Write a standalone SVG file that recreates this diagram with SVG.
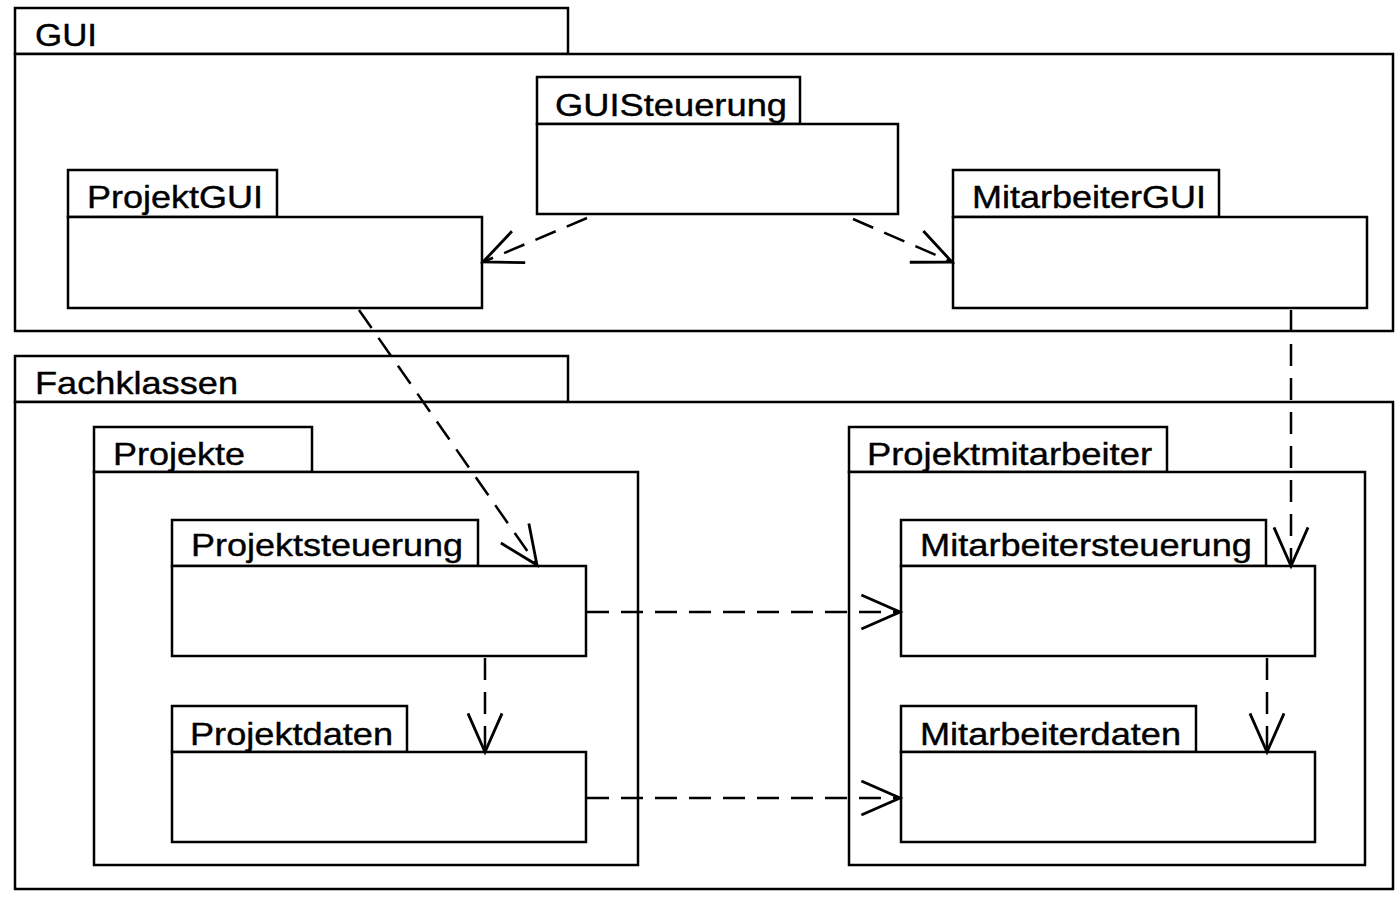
<svg xmlns="http://www.w3.org/2000/svg" width="1400" height="898" viewBox="0 0 1400 898">
<defs>
<style>
.box{fill:#fff;stroke:#000;stroke-width:2.5}
.lbl{font-family:"Liberation Sans",Arial,sans-serif;font-size:32px;fill:#000;stroke:#000;stroke-width:0.4}
.dep{fill:none;stroke:#000;stroke-width:2.5;stroke-dasharray:22 12;marker-end:url(#open)}
</style>
<marker id="open" markerUnits="userSpaceOnUse" markerWidth="50" markerHeight="50" viewBox="-40 -20 44 40" refX="0" refY="0" orient="auto">
<path d="M-34,-15 L0,0 L-34,15" fill="none" stroke="#000" stroke-width="2.5"/>
</marker>
</defs>
<rect width="1400" height="898" fill="#fff"/>

<g id="pkg-gui">
<rect class="box" x="15" y="8" width="553" height="46"/>
<rect class="box" x="15" y="54" width="1378" height="277"/>
<text class="lbl" x="35" y="46" textLength="62" lengthAdjust="spacingAndGlyphs">GUI</text>
</g>
<g id="pkg-fachklassen">
<rect class="box" x="15" y="356" width="553" height="46"/>
<rect class="box" x="15" y="402" width="1378" height="487"/>
<text class="lbl" x="35" y="394" textLength="203" lengthAdjust="spacingAndGlyphs">Fachklassen</text>
</g>
<g id="pkg-guisteuerung">
<rect class="box" x="537" y="77" width="263" height="47"/>
<rect class="box" x="537" y="124" width="361" height="90"/>
<text class="lbl" x="555" y="116" textLength="232" lengthAdjust="spacingAndGlyphs">GUISteuerung</text>
</g>
<g id="pkg-projektgui">
<rect class="box" x="68" y="170" width="209" height="47"/>
<rect class="box" x="68" y="217" width="414" height="91"/>
<text class="lbl" x="87" y="208" textLength="176" lengthAdjust="spacingAndGlyphs">ProjektGUI</text>
</g>
<g id="pkg-mitarbeitergui">
<rect class="box" x="953" y="170" width="266" height="47"/>
<rect class="box" x="953" y="217" width="414" height="91"/>
<text class="lbl" x="972" y="208" textLength="234" lengthAdjust="spacingAndGlyphs">MitarbeiterGUI</text>
</g>
<g id="pkg-projekte">
<rect class="box" x="94" y="427" width="218" height="45"/>
<rect class="box" x="94" y="472" width="544" height="393"/>
<text class="lbl" x="113" y="465" textLength="132" lengthAdjust="spacingAndGlyphs">Projekte</text>
</g>
<g id="pkg-projektmitarbeiter">
<rect class="box" x="849" y="427" width="318" height="45"/>
<rect class="box" x="849" y="472" width="516" height="393"/>
<text class="lbl" x="867" y="465" textLength="285" lengthAdjust="spacingAndGlyphs">Projektmitarbeiter</text>
</g>
<g id="pkg-projektsteuerung">
<rect class="box" x="172" y="520" width="306" height="46"/>
<rect class="box" x="172" y="566" width="414" height="90"/>
<text class="lbl" x="191" y="556" textLength="272" lengthAdjust="spacingAndGlyphs">Projektsteuerung</text>
</g>
<g id="pkg-projektdaten">
<rect class="box" x="172" y="706" width="235" height="46"/>
<rect class="box" x="172" y="752" width="414" height="90"/>
<text class="lbl" x="190" y="745" textLength="203" lengthAdjust="spacingAndGlyphs">Projektdaten</text>
</g>
<g id="pkg-mitarbeitersteuerung">
<rect class="box" x="901" y="520" width="365" height="46"/>
<rect class="box" x="901" y="566" width="414" height="90"/>
<text class="lbl" x="920" y="556" textLength="332" lengthAdjust="spacingAndGlyphs">Mitarbeitersteuerung</text>
</g>
<g id="pkg-mitarbeiterdaten">
<rect class="box" x="901" y="706" width="295" height="46"/>
<rect class="box" x="901" y="752" width="414" height="90"/>
<text class="lbl" x="920" y="745" textLength="261" lengthAdjust="spacingAndGlyphs">Mitarbeiterdaten</text>
</g>

<g id="connectors">
<line class="dep" x1="587" y1="218" x2="483" y2="262"/>
<line class="dep" x1="853" y1="219" x2="952" y2="262"/>
<line class="dep" x1="359" y1="310" x2="537" y2="565"/>
<line class="dep" x1="1291" y1="310" x2="1291" y2="566"/>
<line class="dep" x1="587" y1="612" x2="900" y2="612"/>
<line class="dep" x1="587" y1="798" x2="900" y2="798"/>
<line class="dep" x1="485" y1="658" x2="485" y2="752"/>
<line class="dep" x1="1267" y1="658" x2="1267" y2="752"/>
</g>
</svg>
